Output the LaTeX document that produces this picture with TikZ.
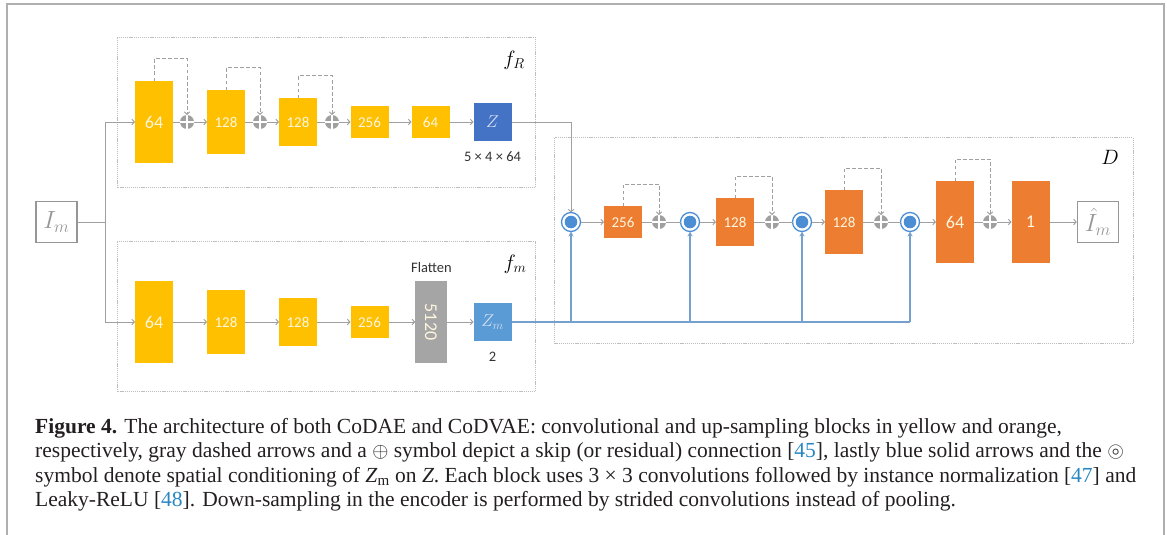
\documentclass[tikz,border=0pt]{standalone}
\usepackage{amssymb}
\usepackage{fontspec}
\setmainfont{Liberation Serif}
\newfontfamily\calibri{Carlito}
\usetikzlibrary{arrows.meta}
\definecolor{yel}{RGB}{255,192,0}
\definecolor{org}{RGB}{237,125,49}
\definecolor{zdark}{RGB}{68,114,196}
\definecolor{zlight}{RGB}{91,155,213}
\definecolor{flatgray}{RGB}{165,165,165}
\definecolor{linegray}{RGB}{160,160,160}
\definecolor{framegray}{RGB}{190,190,190}
\definecolor{outergray}{RGB}{175,175,175}
\definecolor{condblue}{RGB}{115,160,205}
\definecolor{ringblue}{RGB}{75,142,212}
\definecolor{citeblue}{RGB}{40,135,195}
\definecolor{blocktext}{RGB}{255,246,222}
\definecolor{ztext}{RGB}{215,225,245}
\definecolor{labgray}{RGB}{50,50,50}
\definecolor{iogray}{RGB}{150,150,150}
\definecolor{captext}{RGB}{35,31,32}
\begin{document}
\begin{tikzpicture}[x=1pt,y=-1pt,
  blk/.style={inner sep=0pt, outer sep=0pt, minimum width=38pt, text=blocktext,
    font=\calibri\fontsize{15}{18}\selectfont},
  big/.style={minimum height=82pt, font=\calibri\fontsize{18}{21}\selectfont},
  hB/.style={minimum height=64pt},
  hC/.style={minimum height=48pt},
  hD/.style={minimum height=32pt},
  yb/.style={blk, fill=yel},
  ob/.style={blk, fill=org},
  addnode/.style={circle, fill=linegray, minimum size=14pt, inner sep=0pt, outer sep=0pt,
    path picture={\draw[white, line width=1.4pt]
      (path picture bounding box.north) -- (path picture bounding box.south)
      (path picture bounding box.west) -- (path picture bounding box.east);}},
  condnode/.style={circle, draw=ringblue, line width=1.3pt, fill=white, minimum size=19pt,
    inner sep=0pt, outer sep=0pt,
    path picture={\fill[ringblue] (path picture bounding box.center) circle (6.3pt);}},
  gline/.style={draw=linegray, line width=1pt},
  garrow/.style={gline, -{Straight Barb[length=2.5pt,width=5.5pt]}},
  skiparrow/.style={garrow, dash pattern=on 3.5pt off 2.5pt},
  bline/.style={draw=condblue, line width=1.6pt},
  barrow/.style={bline, -{Stealth[length=5pt,width=5pt]}},
  framebox/.style={draw=framegray, line width=0.8pt, dash pattern=on 1.2pt off 0.9pt},
  iobox/.style={draw=iogray, line width=1.4pt, minimum width=41pt, minimum height=41pt,
    inner sep=0pt, text=iogray, font=\fontsize{24}{27}\selectfont},
  smalllbl/.style={text=labgray, font=\calibri\fontsize{14.5}{17}\selectfont, inner sep=0pt},
  framelbl/.style={font=\fontsize{21}{24}\selectfont, inner sep=0pt},
  capline/.style={anchor=base west, inner sep=0pt, text=captext, font=\fontsize{21.5}{25}\selectfont}
]
\useasboundingbox (0,0) rectangle (1167,535);
\draw[outergray, line width=1.8pt] (7,535) -- (7,4) -- (1164,4) -- (1164,535);

% frames
\draw[framebox] (117,37.5) rectangle (535.5,187.5);
\draw[framebox] (117,241.5) rectangle (535.5,391.5);
\draw[framebox] (554.5,137.5) rectangle (1133,343.5);
\node[framelbl] (fRlbl) at (514,60) {$f_R$};
\node[framelbl] (fmlbl) at (515,264) {$f_m$};
\node[framelbl] (Dlbl) at (1110,157) {$D$};

% input
\node[iobox] (im) at (56.5,222) {$I_m$};
\coordinate (sp) at (105,222);

% encoder f_R
\node[yb, big] (e1) at (154,122) {64};
\node[addnode] (p1) at (187,122) {};
\node[yb, hB] (e2) at (226,122) {128};
\node[addnode] (p2) at (260,122) {};
\node[yb, hC] (e3) at (298,122) {128};
\node[addnode] (p3) at (332,122) {};
\node[yb, hD] (e4) at (369.5,122) {256};
\node[yb, hD] (e5) at (430.5,122) {64};
\node[blk, fill=zdark, minimum height=38pt, text=ztext, font=\fontsize{18}{21}\selectfont] (z) at (492.5,122) {$Z$};
\node[smalllbl] (zdim) at (492.5,157) {5 × 4 × 64};

% encoder f_m
\node[yb, big] (b1) at (154,322) {64};
\node[yb, hB] (b2) at (226,322) {128};
\node[yb, hC] (b3) at (298,322) {128};
\node[yb, hD] (b4) at (369.5,322) {256};
\node[blk, big, fill=flatgray, minimum width=31.5pt] (fl) at (431,322) {\rotatebox{-90}{5120}};
\node[smalllbl] (flat) at (431.5,268) {Flatten};
\node[blk, fill=zlight, minimum height=38pt, text=ztext, font=\fontsize{18}{21}\selectfont] (zm) at (492.5,322) {$Z_m$};
\node[smalllbl] (two) at (492.5,357) {2};

% decoder
\node[condnode] (c1) at (571,222) {};
\node[ob, hD] (d1) at (623,222) {256};
\node[addnode] (q1) at (659,222) {};
\node[condnode] (c2) at (690,222) {};
\node[ob, hC] (d2) at (735,222) {128};
\node[addnode] (q2) at (772,222) {};
\node[condnode] (c3) at (802,222) {};
\node[ob, hB] (d3) at (844,222) {128};
\node[addnode] (q3) at (881,222) {};
\node[condnode] (c4) at (910,222) {};
\node[ob, big] (d4) at (955,222) {64};
\node[addnode] (q4) at (990,222) {};
\node[ob, big] (d5) at (1030.5,222) {1};
\node[iobox] (out) at (1098,222) {$\hat{I}_m$};

% input split
\draw[gline] (im) -- (sp);
\draw[garrow] (sp) |- (e1.west);
\draw[garrow] (sp) |- (b1.west);

% f_R connections
\draw[gline] (e1) -- (p1);
\draw[garrow] (p1) -- (e2);
\draw[gline] (e2) -- (p2);
\draw[garrow] (p2) -- (e3);
\draw[gline] (e3) -- (p3);
\draw[garrow] (p3) -- (e4);
\draw[garrow] (e4) -- (e5);
\draw[garrow] (e5) -- (z);
\draw[skiparrow] (e1.north) -- ++(0,-22) -| (p1.north);
\draw[skiparrow] (e2.north) -- ++(0,-22) -| (p2.north);
\draw[skiparrow] (e3.north) -- ++(0,-22) -| (p3.north);
\draw[garrow] (z.east) -| (c1.north);

% f_m connections
\draw[garrow] (b1) -- (b2);
\draw[garrow] (b2) -- (b3);
\draw[garrow] (b3) -- (b4);
\draw[garrow] (b4) -- (fl);
\draw[garrow] (fl) -- (zm);

% decoder connections
\draw[garrow] (c1) -- (d1);
\draw[gline] (d1) -- (q1);
\draw[gline] (q1) -- (c2);
\draw[garrow] (c2) -- (d2);
\draw[gline] (d2) -- (q2);
\draw[gline] (q2) -- (c3);
\draw[garrow] (c3) -- (d3);
\draw[gline] (d3) -- (q3);
\draw[gline] (q3) -- (c4);
\draw[garrow] (c4) -- (d4);
\draw[gline] (d4) -- (q4);
\draw[garrow] (q4) -- (d5);
\draw[garrow] (d5) -- (out);
\draw[skiparrow] (d1.north) -- ++(0,-22) -| (q1.north);
\draw[skiparrow] (d2.north) -- ++(0,-22) -| (q2.north);
\draw[skiparrow] (d3.north) -- ++(0,-22) -| (q3.north);
\draw[skiparrow] (d4.north) -- ++(0,-22) -| (q4.north);

% conditioning
\coordinate (j1) at (571,322);
\coordinate (j2) at (690,322);
\coordinate (j3) at (802,322);
\coordinate (j4) at (910,322);
\draw[bline] (zm.east) -- (j4);
\draw[barrow] (j1) -- (c1);
\draw[barrow] (j2) -- (c2);
\draw[barrow] (j3) -- (c3);
\draw[barrow] (j4) -- (c4);

% caption
\node[capline] (cap1) at (35,433) {\textbf{Figure 4.} The architecture of both CoDAE and CoDVAE: convolutional and up-sampling blocks in yellow and orange,};
\node[capline] (cap2) at (35,457.5) {respectively, gray dashed arrows and a $\oplus$ symbol depict a skip (or residual) connection [{\color{citeblue}45}], lastly blue solid arrows and the $\circledcirc$};
\node[capline] (cap3) at (35,482) {symbol denote spatial conditioning of \textit{Z}\textsubscript{m} on \textit{Z}. Each block uses 3 × 3 convolutions followed by instance normalization [{\color{citeblue}47}] and};
\node[capline] (cap4) at (35,506.5) {Leaky-ReLU [{\color{citeblue}48}]. Down-sampling in the encoder is performed by strided convolutions instead of pooling.};
\end{tikzpicture}
\end{document}
